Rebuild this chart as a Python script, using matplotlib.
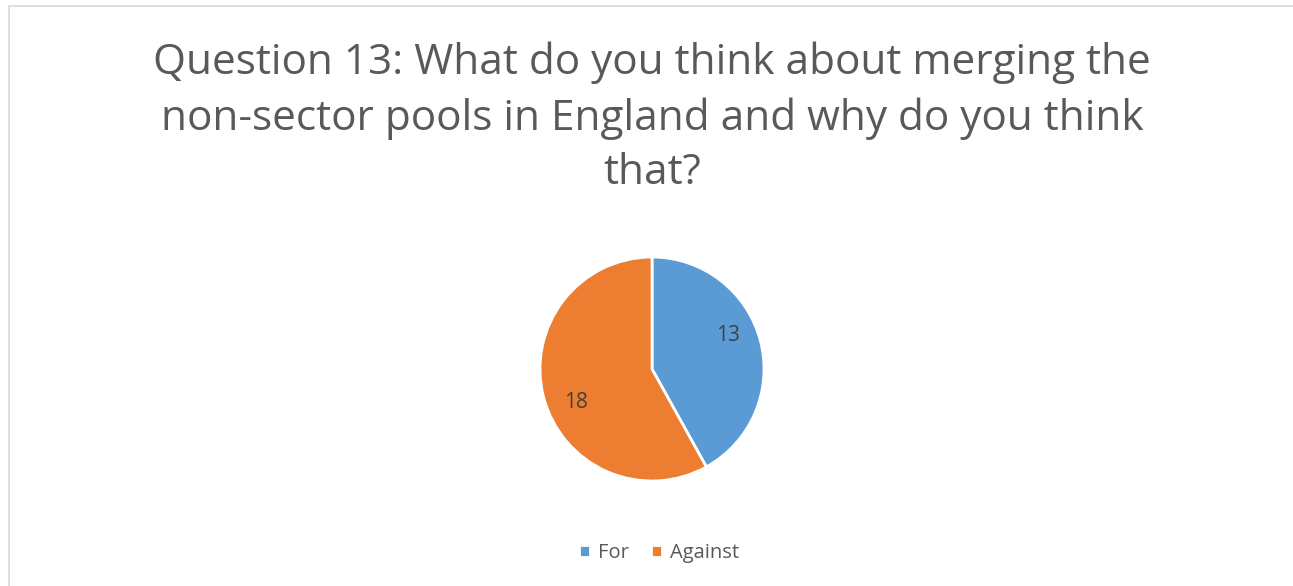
import matplotlib
matplotlib.use('Agg')
import numpy as np
import matplotlib.pyplot as plt
from matplotlib.patches import Rectangle

plt.rcParams['font.family'] = ['Open Sans', 'DejaVu Sans']

# data
categories = ['For', 'Against']
values = [13, 18]
colors = ['#5B9BD5', '#ED7D31']
title = 'Question 13: What do you think about merging the\nnon-sector pools in England and why do you think\nthat?'

W, H = 1293, 586
fig = plt.figure(figsize=(W / 100, H / 100), dpi=100)

# chart border (cut at right and bottom like the reference)
fig.patches.append(Rectangle((9 / W, -0.1), 1.2, 1 - 6 / H + 0.1, transform=fig.transFigure,
                             fill=False, edgecolor='#D9D9D9', linewidth=1.2))

fig.text(652 / W, 1 - 118 / H, title, ha='center', va='center', fontsize=30.4,
         color='#595959', linespacing=1.4)

# pie axes placed by pixel box
cx, cy, r = 652, 369, 112
ax = fig.add_axes([(cx - r) / W, (H - cy - r) / H, 2 * r / W, 2 * r / H])
wedges, texts, autotexts = ax.pie(values, colors=colors, startangle=90, counterclock=False,
                                  autopct=lambda p: '%d' % round(p * sum(values) / 100),
                                  pctdistance=0.72,
                                  wedgeprops=dict(edgecolor='white', linewidth=2))
# excel-style label placement: nudged a little counter-clockwise from the mid angle
for w, t in zip(wedges, autotexts):
    mid = np.radians((w.theta1 + w.theta2) / 2 + 9)
    t.set_position((0.74 * np.cos(mid), 0.74 * np.sin(mid)))
    t.set_fontsize(15)
    t.set_color('#404040')
ax.set_xlim(-1, 1)
ax.set_ylim(-1, 1)

fig.legend(wedges, categories, loc='center', bbox_to_anchor=(659 / W, 1 - 553 / H), ncol=2,
           frameon=False, fontsize=14.5, labelcolor='#595959', handlelength=0.55, handleheight=0.55,
           handletextpad=0.4, columnspacing=1.1)

fig.savefig('out.png', dpi=100)
